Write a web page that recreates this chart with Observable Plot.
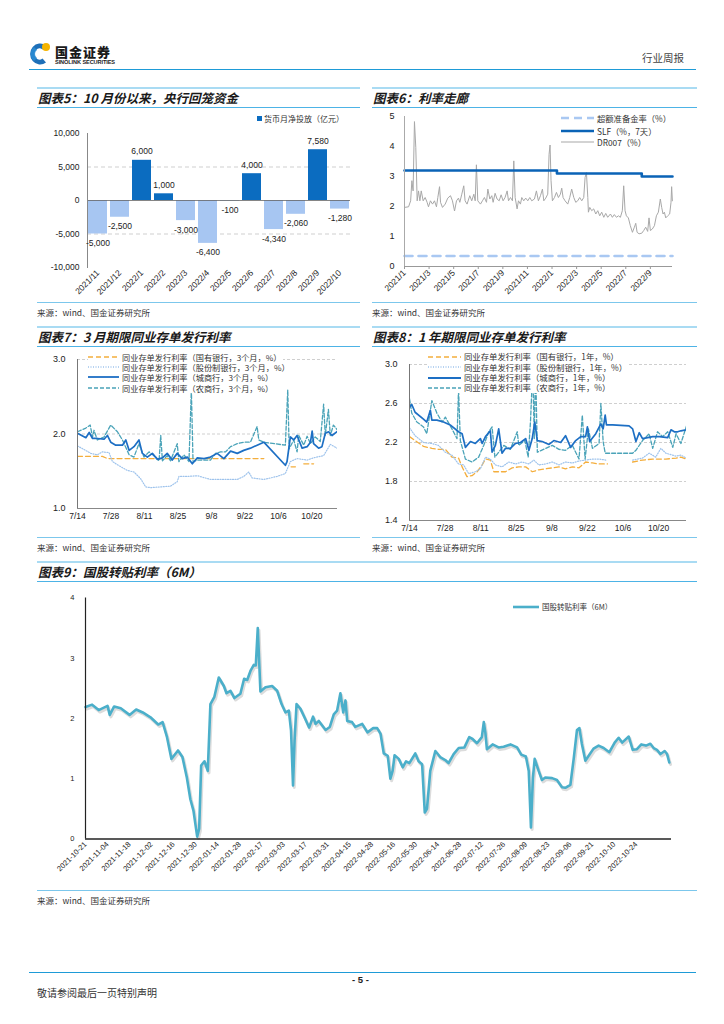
<!DOCTYPE html>
<html><head><meta charset="utf-8">
<script src="https://cdn.jsdelivr.net/npm/d3@7"></script>
<script src="https://cdn.jsdelivr.net/npm/@observablehq/plot@0.6"></script>
<style>
body{margin:0;background:#fff;}
#page{position:relative;width:724px;height:1024px;overflow:hidden;font-family:"Liberation Sans","Noto Sans CJK SC",sans-serif;color:#222;background:#fff;}
.abs{position:absolute;}
.ln{position:absolute;height:0;}
.title{position:absolute;font-family:"Noto Sans CJK SC",sans-serif;font-style:italic;font-weight:bold;font-size:12.5px;color:#1a1a1a;line-height:1;white-space:nowrap;}
.src{position:absolute;font-family:"Noto Sans CJK SC",sans-serif;font-size:8.5px;color:#333;line-height:1;white-space:nowrap;}
.leg{position:absolute;font-family:"Noto Sans CJK SC",sans-serif;color:#333;background:#fff;display:flex;align-items:center;white-space:nowrap;height:11px;line-height:1;padding-right:2px;}
.leg svg{margin-right:3px;}
</style></head>
<body><div id="page"></div>
<script>
// ---------- DATA ----------
// Chart 5: monthly net injection (100m yuan)
const c5Months = ["2021/11","2021/12","2022/1","2022/2","2022/3","2022/4","2022/5","2022/6","2022/7","2022/8","2022/9","2022/10"];
const c5Values = [-5000,-2500,6000,1000,-3000,-6400,-100,4000,-4340,-2060,7580,-1280];
const c5Ticks = [-10000,-5000,0,5000,10000];

// Chart 6: months since 2021/1
const c6TickLabels = ["2021/1","2021/3","2021/5","2021/7","2021/9","2021/11","2022/1","2022/3","2022/5","2022/7","2022/9"];
const dr007Month = [0,0.33,0.5,0.6,0.7,0.81,0.92,1.03,1.14,1.25,1.36,1.52,1.68,1.84,1.95,2.11,2.28,2.44,2.6,2.71,2.85,2.93,3.09,3.31,3.52,3.74,3.9,4.07,4.23,4.39,4.5,4.66,4.82,4.93,5.09,5.31,5.47,5.64,5.75,5.85,5.96,6.18,6.34,6.5,6.67,6.78,6.94,7.1,7.21,7.37,7.53,7.7,7.86,8.02,8.18,8.35,8.46,8.62,8.78,8.89,9.0,9.16,9.27,9.43,9.54,9.7,9.86,10.03,10.19,10.35,10.57,10.73,10.89,11.06,11.22,11.33,11.49,11.65,11.76,11.84,11.92,12.03,12.2,12.36,12.52,12.68,12.79,12.9,13.06,13.28,13.44,13.6,13.77,13.93,14.09,14.25,14.42,14.58,14.69,14.8,14.91,14.96,15.07,15.23,15.39,15.56,15.72,15.88,16.04,16.21,16.37,16.53,16.75,16.91,17.07,17.24,17.4,17.56,17.72,17.83,17.94,18.05,18.21,18.37,18.54,18.7,18.81,18.92,19.08,19.3,19.46,19.62,19.78,19.89,20.0,20.16,20.33,20.49,20.65,20.81,20.92,21.03,21.14,21.25,21.41,21.57,21.68,21.73,21.79];
const dr007Value = [1.97,1.99,2.19,2.86,2.52,4.83,3.96,2.19,2.52,2.19,2.52,2.19,2.30,2.14,1.99,2.19,2.08,2.19,1.99,2.30,2.66,2.14,1.97,2.08,2.28,2.36,2.19,1.85,2.19,2.28,2.14,2.41,2.69,2.19,2.08,2.36,2.19,2.41,2.19,3.39,2.19,2.08,2.19,2.30,2.14,2.58,2.25,2.36,2.14,2.44,2.25,2.19,2.39,2.19,2.30,2.52,2.19,2.30,2.19,3.52,2.30,1.92,2.19,2.08,2.30,2.19,2.28,2.19,2.30,2.19,2.25,2.52,2.19,2.36,2.58,2.19,2.28,2.41,3.74,4.05,2.86,2.19,2.30,2.47,2.30,2.41,2.61,2.30,2.19,2.08,2.30,2.58,2.30,2.14,2.19,2.30,2.19,2.30,2.97,3.13,2.30,1.81,1.97,1.86,1.92,1.75,1.86,1.69,1.81,1.64,1.77,1.64,1.75,1.64,1.73,1.64,1.69,1.64,1.86,2.69,1.86,1.69,1.62,1.36,1.14,1.31,1.44,1.14,1.09,1.11,1.20,1.31,1.17,1.62,1.20,1.25,1.36,1.69,1.81,2.25,1.97,1.75,1.81,1.62,1.69,1.75,2.14,2.66,2.19];
const slfMonth = [0,12.4,19.3,21.8];
const slfValue = [3.2,3.1,3.0,3.0];
const excessMonth = [0,21.8];
const excessValue = [0.35,0.35];

// Charts 7 & 8: days since 7/14
const ncdTickLabels = ["7/14","7/28","8/11","8/25","9/8","9/22","10/6","10/20"];
const st3mDay = [0,10.4,12.5,77.9,83,89.3,91.1,93,94.6,98.7];
const st3mVal = [1.70,1.70,1.67,1.67,null,1.56,1.56,null,1.60,1.60];
const jf3mDay = [0,5.6,8.3,10.4,13.2,14.6,18.1,20.9,23.6,26.4,28.5,30.6,34.8,38.9,41.7,42.4,45.9,50.1,55.6,61.2,66.8,69.5,71.6,73,77.9,83.4,86.9,89,91.8,96,98.7,102.9,105.7,108.5];
const jf3mVal = [1.84,1.74,1.72,1.76,1.75,1.63,1.56,1.51,1.49,1.40,1.29,1.28,1.29,1.30,1.36,1.43,1.43,1.44,1.39,1.39,1.39,1.43,1.49,1.41,1.39,1.43,1.47,1.63,1.67,1.65,1.68,1.71,1.86,1.81];
const cs3mDay = [0,3.5,4.9,6.3,8.3,11.1,12.5,13.9,16,18.8,20.2,21.6,23.6,25.7,27.1,29.2,31.3,33.4,35.5,37.5,39.6,41.7,43.8,45.9,48,50.1,52.9,55.6,58.4,61.2,64,66.8,69.5,72.3,75.1,77.9,86.9,87.6,89,90.4,91.8,93.9,96,97.4,98.1,98.7,100.8,102.2,103.6,105,106.4,108.5];
const cs3mVal = [2.01,1.95,2.02,1.94,1.94,1.93,1.98,1.89,1.85,1.85,1.92,1.78,1.83,1.92,1.74,1.69,1.74,1.66,1.68,1.74,1.65,1.74,1.67,1.69,1.60,1.68,1.67,1.69,1.74,1.67,1.77,1.74,1.78,1.81,1.85,1.89,1.58,1.63,1.96,1.92,1.98,1.81,1.83,1.89,2.04,1.87,1.81,1.83,2.01,2.03,1.98,2.03];
const ns3mDay = [0,3.5,5.3,6.3,6.9,8.3,11.1,13.9,16.7,18.8,21.6,23.6,25.7,27.8,29.9,32.7,34.1,34.8,35.5,37.5,38.9,41.7,42.4,44.5,46.6,47.6,48.3,50.1,52.9,55.6,57.7,59.8,61.9,64,66.8,69.5,72.3,75.1,75.8,77.9,86.9,87.9,88.5,90.4,91.8,92.5,94.6,96,97.4,99.4,101.5,102.9,103.6,104.9,105.7,107,108.5];
const ns3mVal = [2.03,2.08,2.12,1.96,2.05,1.92,1.96,2.12,2.03,1.92,1.72,1.69,1.87,1.69,1.76,1.69,1.64,1.98,1.64,1.71,1.64,1.87,1.63,1.72,1.63,2.59,1.63,1.65,1.65,1.65,1.74,1.76,1.76,1.83,1.87,1.89,1.89,2.10,1.92,1.89,1.85,2.59,1.80,1.92,1.76,1.98,1.85,1.97,1.87,1.96,1.90,2.40,1.98,2.33,1.98,2.12,2.06];

const st1yDay = [0,2.2,5.5,8.8,11.4,14.1,16.7,19.3,20.7,22.6,24.6,26.6,28.6,29.9,31.8,33.2,35.1,37.8,40.4,43,45.7,48.3,50.9,53.6,56.2,58.8,61.4,64.1,66.7,69.3,72,74.6,77.9,82,87.8,91.7,95.7,98.3,100.9,104.9,106.8,109];
const st1yVal = [2.26,2.22,2.16,2.14,2.13,2.13,2.05,2.04,1.95,1.85,1.86,1.90,1.97,2.03,2.02,1.90,1.90,1.90,1.94,1.95,1.95,1.90,1.92,1.93,1.94,1.95,1.93,1.95,1.94,2.00,1.99,1.98,1.98,null,2.00,2.02,2.03,2.03,2.03,2.04,2.05,2.03];
const jf1yDay = [0,2.2,5.5,8.8,11.4,14.1,16.7,19.3,21.3,23.3,25.9,27.9,29.9,31.8,33.8,36.4,39.1,41.7,44.3,47,48.9,50.9,53.6,56.2,58.8,61.4,64.1,66.7,69.3,72,74.6,77.2,82,87.8,91.7,94.3,96.9,98.9,100.9,104.9,106.8,109];
const jf1yVal = [2.35,2.27,2.20,2.19,2.17,2.10,2.07,1.98,1.97,1.88,1.90,1.93,2.05,2.03,1.97,1.95,2.00,1.98,2.00,1.98,2.02,1.97,1.98,2.00,1.97,2.00,1.99,2.01,2.02,2.03,2.03,2.02,null,2.02,2.04,2.09,2.05,2.14,2.09,2.06,2.07,2.04];
const cs1yDay = [0,0.9,2.2,5.5,6.8,8.2,8.8,10.8,13.4,16,19.3,20.7,22,24,25.9,27.9,28.6,29.9,31.8,32.5,33.8,35.1,36.4,37.8,39.7,41.7,43.7,45.7,47,48.3,49.3,50.3,52.2,54.9,56.8,59.5,61.4,63.4,65.4,67.4,69.3,70,70.9,73.3,75.3,76.2,77,77.5,79.9,86.4,87.8,89.1,90.4,91.7,95.7,98.3,101.6,102.9,104.2,105.5,106.8,109];
const cs1yVal = [2.56,2.59,2.51,2.44,2.41,2.53,2.43,2.43,2.41,2.38,2.31,2.29,2.15,2.21,2.19,2.24,2.19,2.26,2.32,2.10,2.17,2.34,2.09,2.14,2.14,2.19,2.20,2.24,2.12,2.24,2.41,2.22,2.21,2.18,2.22,2.20,2.27,2.15,2.22,2.26,2.26,2.36,2.21,2.29,2.39,2.34,2.48,2.38,2.38,2.37,2.34,2.21,2.30,2.24,2.26,2.26,2.25,2.33,2.31,2.31,2.32,2.33];
const ns1yDay = [0,0.9,2.9,5.5,6.8,8.8,10.8,12.8,14.1,16.7,18.7,19.3,20,22,24.6,27.2,29.2,31.2,32.5,33.6,35.1,37.1,39.7,42.4,43,45.4,46.7,47.6,48.5,49.1,49.6,50.3,53.6,56.2,58.8,61.4,64.1,66.7,68,69.1,70.4,72,74.6,75.3,76.2,77,79.9,87.8,89.1,91.7,94.3,95.7,97.6,99.6,101.6,103.6,104.9,106.8,109];
const ns1yVal = [2.65,2.50,2.41,2.36,2.29,2.63,2.50,2.41,2.46,2.34,2.24,2.75,2.22,2.03,2.00,2.05,2.17,2.31,2.36,2.05,2.10,2.17,2.13,2.31,2.17,2.22,2.05,2.41,2.96,2.24,3.0,2.10,2.14,2.17,2.13,2.12,2.17,2.03,2.48,2.03,2.34,2.14,2.19,2.60,2.21,2.09,2.09,2.09,2.12,2.22,2.29,2.14,2.31,2.26,2.31,2.15,2.29,2.19,2.37];

// Chart 9: trading-day index since 2021-10-21
const c9TickLabels = ["2021-10-21","2021-11-04","2021-11-18","2021-12-02","2021-12-16","2021-12-30","2022-01-14","2022-01-28","2022-02-17","2022-03-03","2022-03-17","2022-03-31","2022-04-15","2022-04-28","2022-05-16","2022-05-30","2022-06-14","2022-06-28","2022-07-12","2022-07-26","2022-08-09","2022-08-23","2022-09-06","2022-09-21","2022-10-10","2022-10-24"];
const billIdx = [0,3,6,10,11,13,16,20,23,26,29.5,33,35,37,39,42,44,46,47.6,49,50.7,51.6,52.5,54,55.5,56.7,58.5,60.5,62.8,64,65.8,67.6,70.3,72,73.4,75,76.4,77.3,78.2,79.4,81.7,84.7,87,89,90.8,92.3,93.3,94.2,94.9,95.8,97.6,99.4,101.5,103.3,104.4,105.9,109,110.9,112.7,114.2,115.7,117,118,118.8,121,122.5,125.6,128,130.6,132.4,133.9,135.4,137.2,138.4,139.4,140.3,142.2,144,145.5,147,149.7,151.2,152.8,154,155,156.5,158.8,161,163.3,164.8,167.1,169.4,172,174.2,175.7,177.7,179.9,180.8,181.5,182.2,184.8,187.5,189.8,192.9,195.9,197.8,199.9,201.2,202.2,203.1,203.9,205.7,207.2,208.7,211.8,214,216.3,217.8,220.1,221.6,223.1,224.2,225.3,226.9,228.4,230.6,232.9,235.2,237.8,240.2,242,243.6,246.6,248.4,250.3,252.3,254.4,256.4,257.9,259.4,261,262.9,264,265];
const billRate = [2.19,2.23,2.14,2.21,2.06,2.20,2.17,2.06,2.15,2.10,2.02,1.90,1.94,1.69,1.33,1.47,1.36,1.02,0.66,0.47,0.04,0.17,1.22,1.29,1.13,2.24,2.36,2.68,2.54,2.42,2.46,2.34,2.41,2.66,2.64,2.80,2.89,2.88,3.50,2.45,2.52,2.54,2.46,2.24,2.10,2.13,1.80,0.89,1.63,2.24,2.16,2.02,1.85,2.03,1.91,1.96,1.81,1.86,2.07,2.13,2.42,2.10,2.30,1.96,1.94,1.86,1.91,1.77,1.84,1.84,1.75,1.42,1.38,1.00,1.13,1.39,1.33,1.19,1.29,1.26,1.42,1.29,1.24,0.44,0.50,1.13,1.46,1.36,1.31,1.26,1.41,1.51,1.52,1.69,1.66,1.59,1.69,1.94,1.77,1.49,1.57,1.52,1.53,1.57,1.52,1.40,1.37,1.13,0.19,1.02,1.33,1.13,0.98,1.02,1.01,0.98,0.86,0.85,0.90,1.33,1.81,1.84,1.58,1.30,1.38,1.50,1.55,1.51,1.44,1.60,1.68,1.60,1.70,1.48,1.49,1.57,1.55,1.58,1.51,1.48,1.41,1.46,1.41,1.27];

// ---------- HELPERS ----------
const page = document.getElementById("page");
const pts = (xs, ys) => xs.map((x, i) => ({x, y: ys[i]}));
const FONT = "'Liberation Sans','Noto Sans CJK SC',sans-serif";
function place(node, left, top) {
  const d = document.createElement("div");
  d.className = "abs"; d.style.left = left + "px"; d.style.top = top + "px";
  d.appendChild(node); page.appendChild(d); return d;
}
function hline(x1, x2, y, color, w) {
  const d = document.createElement("div"); d.className = "ln";
  d.style.left = x1 + "px"; d.style.width = (x2 - x1) + "px"; d.style.top = (y - w / 2) + "px";
  d.style.borderTop = w + "px solid " + color; page.appendChild(d);
}
function text(cls, x, y, s, extra) {
  const d = document.createElement("div"); d.className = cls; d.textContent = s;
  d.style.left = x + "px"; d.style.top = y + "px"; if (extra) Object.assign(d.style, extra);
  page.appendChild(d); return d;
}
function legendRow(x, yc, sw, stroke, width, dash, label, fs) {
  const d = document.createElement("div"); d.className = "leg";
  d.style.left = x + "px"; d.style.top = (yc - 5.5) + "px"; d.style.fontSize = fs + "px";
  d.innerHTML = `<svg width="${sw}" height="8"><line x1="0" x2="${sw}" y1="4" y2="4" stroke="${stroke}" stroke-width="${width}" ${dash ? `stroke-dasharray="${dash}"` : ""}/></svg><span>${label}</span>`;
  page.appendChild(d);
}
function chartFrame(x1, x2, yTop, yBot, title, ySrcLine, ySrc) {
  hline(x1, x2, yTop, "#a9dbf3", 2);
  text("title", x1 + 1, yTop + 4, title);
  hline(x1, x2, yBot, "#4db3e6", 1.3);
  hline(x1, x2, ySrcLine, "#7cc7ec", 1.5);
  text("src", x1, ySrc - 4, "来源：wind、国金证券研究所");
}
const baseStyle = {fontFamily: FONT, fontSize: "8.5px", color: "#222", background: "transparent", overflow: "visible"};

// ---------- HEADER ----------
const logo = document.createElement("div");
logo.innerHTML = `<svg width="22" height="26" viewBox="0 0 22 26">
<path d="M17 4.5 A10 10.5 0 1 0 17 21.5 L13.5 17.5 A5 5.5 0 1 1 13.5 8.5 Z" fill="#1d6fb8"/>
<path d="M5 6 A9 9 0 0 0 5 20 L8 17 A5 5 0 0 1 8 9 Z" fill="#2c8fd6" opacity="0.8"/>
<circle cx="17" cy="6" r="4" fill="#f5b400"/></svg>`;
place(logo, 29, 41);
text("abs", 55, 44.5, "国金证券", {fontFamily: "'Noto Sans CJK SC'", fontWeight: "900", fontSize: "13px", color: "#1a1a1a", letterSpacing: "1px", lineHeight: "1"});
text("abs", 55, 59.5, "SINOLINK SECURITIES", {fontFamily: "'Liberation Sans'", fontWeight: "bold", fontSize: "5.6px", color: "#1a1a1a", lineHeight: "1", letterSpacing: "-0.1px"});
text("abs", 642, 53, "行业周报", {fontFamily: "'Noto Sans CJK SC'", fontSize: "10.5px", color: "#444", lineHeight: "1"});
hline(29, 696, 69.5, "#1e9bd7", 1.6);

// ---------- FRAMES ----------
chartFrame(37, 360, 87.7, 107.7, "图表5：10 月份以来，央行回笼资金", 302.3, 311.7);
chartFrame(372, 697, 87.7, 107.7, "图表6：利率走廊", 302.3, 311.7);
chartFrame(37, 360, 326.7, 346.7, "图表7：3 月期限同业存单发行利率", 537.3, 546.7);
chartFrame(372, 697, 326.7, 346.7, "图表8：1 年期限同业存单发行利率", 537.3, 546.7);
chartFrame(37, 697, 561.7, 581.7, "图表9：国股转贴利率（6M）", 891, 900);

// ---------- CHART 5 ----------
const d5 = c5Months.map((m, i) => ({m, v: c5Values[i]}));
const fmt5 = v => d3.format(",")(v).replace("−", "-");
const pos5 = d5.filter(d => d.v >= 0), neg5 = d5.filter(d => d.v < 0);
const c5 = Plot.plot({
  width: 330, height: 195, marginLeft: 57, marginRight: 10, marginTop: 23, marginBottom: 38,
  style: baseStyle,
  x: {domain: c5Months, paddingInner: 0.13, paddingOuter: 0.04, label: null},
  y: {domain: [-10000, 10000], label: null},
  marks: [
    Plot.ruleY([-5000, 5000], {stroke: "#cfcfcf", strokeDasharray: "4,3"}),
    Plot.barY(pos5, {x: "m", y: "v", fill: "#0b6cc0"}),
    Plot.barY(neg5, {x: "m", y: "v", fill: "#a7c6f2"}),
    Plot.ruleY([0], {stroke: "#666", strokeWidth: 0.8}),
    Plot.frame({anchor: "left", stroke: "#888"}),
    Plot.axisY({ticks: c5Ticks, tickFormat: fmt5, tickSize: 0, tickPadding: 8, fontSize: 8.5}),
    Plot.axisX({tickRotate: -45, tickSize: 0, tickPadding: 4, fontSize: 8.5}),
    Plot.text(pos5, {x: "m", y: "v", text: d => fmt5(d.v), dy: -6, lineAnchor: "bottom", fontSize: 8.5, fill: "#222"}),
    Plot.text(neg5, {x: "m", y: "v", text: d => fmt5(d.v), dy: 6, lineAnchor: "top", fontSize: 8.5, fill: "#222"})
  ]
});
place(c5, 30, 110);
const lg5 = document.createElement("div"); lg5.className = "leg";
lg5.style.left = "257px"; lg5.style.top = "113px"; lg5.style.fontSize = "8px";
lg5.innerHTML = `<svg width="5" height="5" style="margin-right:2px"><rect width="5" height="5" fill="#0b6cc0"/></svg><span>货币月净投放（亿元）</span>`;
page.appendChild(lg5);

// ---------- CHART 6 ----------
const c6 = Plot.plot({
  width: 335, height: 195, marginLeft: 39, marginRight: 28, marginTop: 6, marginBottom: 39,
  style: baseStyle,
  x: {domain: [0, 21.8], label: null},
  y: {domain: [0, 5], label: null},
  marks: [
    Plot.line(pts(dr007Month, dr007Value), {x: "x", y: "y", stroke: "#a8a8a8", strokeWidth: 1}),
    Plot.line(pts(slfMonth, slfValue), {x: "x", y: "y", stroke: "#0a63b6", strokeWidth: 2.6, curve: "step-after"}),
    Plot.line(pts(excessMonth, excessValue), {x: "x", y: "y", stroke: "#a9c8f2", strokeWidth: 2.6, strokeDasharray: "8,6"}),
    Plot.ruleY([0], {stroke: "#999"}),
    Plot.ruleX([0], {stroke: "#aaa"}),
    Plot.axisY({ticks: [0, 1, 2, 3, 4, 5], tickFormat: d3.format("d"), tickSize: 0, tickPadding: 10, fontSize: 9}),
    Plot.axisX({ticks: d3.range(0, 21, 2), tickFormat: v => c6TickLabels[v / 2], tickRotate: -45, tickSize: 3, tickPadding: 2, stroke: "#999", fontSize: 8.5})
  ]
});
place(c6, 365, 110);
legendRow(561, 118.3, 33, "#a9c8f2", 2.6, "8,5", "超额准备金率（%）", 8.3);
legendRow(561, 130.7, 33, "#0a63b6", 2.6, null, "SLF（%，7天）", 8.3);
legendRow(561, 142.3, 33, "#a8a8a8", 1.2, null, "DR007（%）", 8.3);

// ---------- CHART 7 ----------
const ncdMarks = (series) => series.map(s => Plot.line(pts(s.d, s.v), {x: "x", y: "y", stroke: s.c, strokeWidth: s.w, strokeDasharray: s.dash, clip: true}));
const c7 = Plot.plot({
  width: 330, height: 185, marginLeft: 47, marginRight: 23, marginTop: 9, marginBottom: 27,
  style: baseStyle,
  x: {domain: [0, 108.7], label: null},
  y: {domain: [1, 3], label: null},
  marks: [
    Plot.ruleY([2, 3], {stroke: "#cfcfcf", strokeDasharray: "3,2"}),
    ...ncdMarks([
      {d: st3mDay, v: st3mVal, c: "#f4ae3d", w: 1.3, dash: "5,3"},
      {d: jf3mDay, v: jf3mVal, c: "#9ec3ec", w: 1.2, dash: "1,1.5"},
      {d: ns3mDay, v: ns3mVal, c: "#4aa3b8", w: 1.3, dash: "4,2"},
      {d: cs3mDay, v: cs3mVal, c: "#1d6fc4", w: 1.7, dash: null}
    ]),
    Plot.ruleY([1], {stroke: "#888"}),
    Plot.ruleX([0], {stroke: "#777"}),
    Plot.axisY({ticks: [1, 2, 3], tickFormat: d3.format(".1f"), tickSize: 0, tickPadding: 12, fontSize: 9}),
    Plot.axisX({ticks: d3.range(0, 99, 14), tickFormat: v => ncdTickLabels[v / 14], tickSize: 0, tickPadding: 4, fontSize: 8.5})
  ]
});
place(c7, 30, 350);
legendRow(88, 356.7, 31, "#f4ae3d", 1.4, "5,3", "同业存单发行利率（国有银行，3个月，%）", 8.2);
legendRow(88, 367.3, 31, "#9ec3ec", 1.3, "1,1.5", "同业存单发行利率（股份制银行，3个月，%）", 8.2);
legendRow(88, 377.3, 31, "#1d6fc4", 1.8, null, "同业存单发行利率（城商行，3个月，%）", 8.2);
legendRow(88, 387.7, 31, "#4aa3b8", 1.4, "4,2", "同业存单发行利率（农商行，3个月，%）", 8.2);

// ---------- CHART 8 ----------
const c8 = Plot.plot({
  width: 335, height: 185, marginLeft: 44, marginRight: 14, marginTop: 14, marginBottom: 15,
  style: baseStyle,
  x: {domain: [0, 109], label: null},
  y: {domain: [1.4, 3.0], label: null},
  marks: [
    Plot.ruleY([1.8, 2.2, 2.6, 3.0], {stroke: "#cfcfcf", strokeDasharray: "3,2"}),
    ...ncdMarks([
      {d: st1yDay, v: st1yVal, c: "#f4ae3d", w: 1.3, dash: "5,3"},
      {d: jf1yDay, v: jf1yVal, c: "#9ec3ec", w: 1.2, dash: "1,1.5"},
      {d: ns1yDay, v: ns1yVal, c: "#4aa3b8", w: 1.3, dash: "4,2"},
      {d: cs1yDay, v: cs1yVal, c: "#1d6fc4", w: 1.7, dash: null}
    ]),
    Plot.ruleY([1.4], {stroke: "#888"}),
    Plot.ruleX([0], {stroke: "#777"}),
    Plot.axisY({ticks: [1.4, 1.8, 2.2, 2.6, 3.0], tickFormat: d3.format(".1f"), tickSize: 0, tickPadding: 12, fontSize: 9}),
    Plot.axisX({ticks: d3.range(0, 99, 14), tickFormat: v => ncdTickLabels[v / 14], tickSize: 0, tickPadding: 4, fontSize: 8.5})
  ]
});
place(c8, 365, 350);
legendRow(428, 356.7, 33, "#f4ae3d", 1.4, "5,3", "同业存单发行利率（国有银行，1年，%）", 8.4);
legendRow(428, 367.3, 33, "#9ec3ec", 1.3, "1,1.5", "同业存单发行利率（股份制银行，1年，%）", 8.4);
legendRow(428, 377.7, 33, "#1d6fc4", 1.8, null, "同业存单发行利率（城商行，1年，%）", 8.4);
legendRow(428, 387.7, 33, "#4aa3b8", 1.4, "4,2", "同业存单发行利率（农商行，1年，%）", 8.4);

// ---------- CHART 9 ----------
const d9 = pts(billIdx, billRate);
const c9 = Plot.plot({
  width: 670, height: 305, marginLeft: 55, marginRight: 29, marginTop: 12.5, marginBottom: 51.5,
  style: baseStyle,
  x: {domain: [0, 266], label: null},
  y: {domain: [0, 4], label: null},
  marks: [
    Plot.line(d9, {x: "x", y: "y", stroke: "#9a9a9a", strokeOpacity: 0.35, strokeWidth: 3, dx: 1.2, dy: 2}),
    Plot.line(d9, {x: "x", y: "y", stroke: "#4bafca", strokeWidth: 2.6}),
    Plot.ruleY([0], {stroke: "#222", strokeWidth: 1.4}),
    Plot.ruleX([0], {stroke: "#222", strokeWidth: 1.2}),
    Plot.axisY({ticks: [0, 1, 2, 3, 4], tickFormat: d3.format("d"), tickSize: 0, tickPadding: 11, fontSize: 7.5}),
    Plot.axisX({ticks: d3.range(0, 251, 10), tickFormat: v => c9TickLabels[v / 10], tickRotate: -45, tickSize: 0, tickPadding: 4, fontSize: 7.5})
  ]
});
place(c9, 30, 585);
legendRow(513, 607, 26, "#4bafca", 2.6, null, "国股转贴利率（6M）", 7.5);

// ---------- FOOTER ----------
hline(29, 696, 972.3, "#1e9bd7", 1.6);
text("abs", 352, 975, "- 5 -", {fontFamily: "'Liberation Sans'", fontWeight: "bold", fontSize: "9.5px", lineHeight: "1", color: "#222"});
text("abs", 37, 988, "敬请参阅最后一页特别声明", {fontFamily: "'Noto Sans CJK SC'", fontSize: "10px", lineHeight: "1", color: "#333"});
</script>
</body></html>
